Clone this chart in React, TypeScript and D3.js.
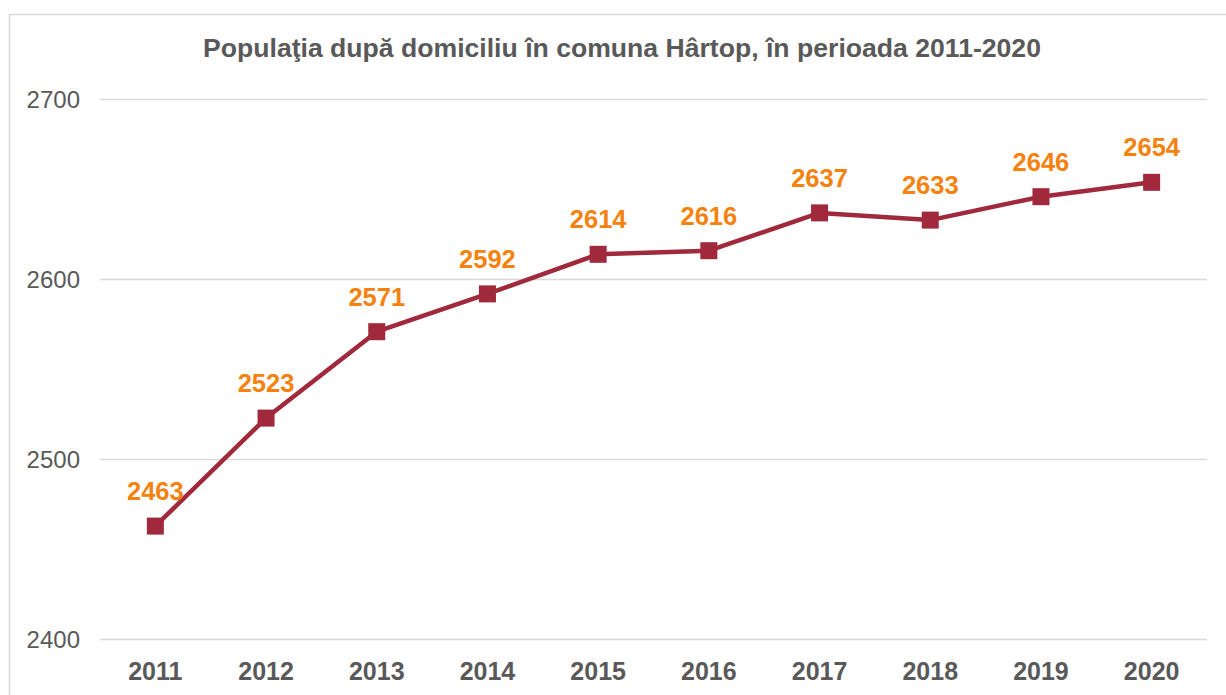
import { useRef, useEffect } from "react"
import * as d3 from "d3"

const years = ["2011", "2012", "2013", "2014", "2015", "2016", "2017", "2018", "2019", "2020"]
const population = [2463, 2523, 2571, 2592, 2614, 2616, 2637, 2633, 2646, 2654]
const yTicks = [2400, 2500, 2600, 2700]

export default function App() {
  const svgRef = useRef<SVGSVGElement>(null)

  useEffect(() => {
    if (!svgRef.current) return
    const svg = d3.select(svgRef.current)
    svg.selectAll("*").remove()

    const W = 1226
    const H = 695
    const font = "'Liberation Sans', Arial, sans-serif"

    // Chart frame
    svg
      .append("rect")
      .attr("x", 9.5)
      .attr("y", 14.5)
      .attr("width", W + 20)
      .attr("height", H + 20)
      .attr("fill", "white")
      .attr("stroke", "#d9d9d9")
      .attr("stroke-width", 1.5)

    // Title
    svg
      .append("text")
      .attr("x", 622)
      .attr("y", 57)
      .attr("text-anchor", "middle")
      .style("font-family", font)
      .style("font-size", "26.6px")
      .style("font-weight", "bold")
      .attr("fill", "#595959")
      .text("Populaţia după domiciliu în comuna Hârtop, în perioada 2011-2020")

    // Scales
    const x = d3.scaleBand().domain(years).range([100, 1207])
    const y = d3.scaleLinear().domain([2400, 2700]).range([639.5, 99.5])
    const cx = (d: string) => (x(d) || 0) + x.bandwidth() / 2

    // Gridlines
    svg
      .append("g")
      .selectAll("line")
      .data(yTicks)
      .enter()
      .append("line")
      .attr("x1", 100)
      .attr("x2", 1207)
      .attr("y1", (d) => y(d))
      .attr("y2", (d) => y(d))
      .attr("stroke", "#d9d9d9")
      .attr("stroke-width", 1.5)

    // Y labels
    svg
      .append("g")
      .selectAll("text")
      .data(yTicks)
      .enter()
      .append("text")
      .attr("x", 80)
      .attr("y", (d) => y(d) + 8)
      .attr("text-anchor", "end")
      .style("font-family", font)
      .style("font-size", "24px")
      .attr("fill", "#595959")
      .text((d) => d)

    // X labels
    svg
      .append("g")
      .selectAll("text")
      .data(years)
      .enter()
      .append("text")
      .attr("x", (d) => cx(d))
      .attr("y", 680)
      .attr("text-anchor", "middle")
      .style("font-family", font)
      .style("font-size", "25px")
      .style("font-weight", "bold")
      .attr("fill", "#595959")
      .text((d) => d)

    const points = years.map((d, i) => ({ year: d, value: population[i] }))

    // Line
    const line = d3
      .line<{ year: string; value: number }>()
      .x((d) => cx(d.year))
      .y((d) => y(d.value))
    svg
      .append("path")
      .datum(points)
      .attr("d", line)
      .attr("fill", "none")
      .attr("stroke", "#a0293b")
      .attr("stroke-width", 4.5)
      .attr("stroke-linejoin", "round")

    // Markers
    svg
      .append("g")
      .selectAll("rect")
      .data(points)
      .enter()
      .append("rect")
      .attr("x", (d) => cx(d.year) - 8.5)
      .attr("y", (d) => y(d.value) - 8.5)
      .attr("width", 17)
      .attr("height", 17)
      .attr("fill", "#a0293b")

    // Data labels
    svg
      .append("g")
      .selectAll("text")
      .data(points)
      .enter()
      .append("text")
      .attr("x", (d) => cx(d.year))
      .attr("y", (d) => y(d.value) - 26)
      .attr("text-anchor", "middle")
      .style("font-family", font)
      .style("font-size", "25.5px")
      .style("font-weight", "bold")
      .attr("fill", "#f5820e")
      .text((d) => d.value)
  }, [])

  return (
    <svg
      ref={svgRef}
      width={1226}
      height={695}
      style={{ position: "absolute", left: 0, top: 0, display: "block" }}
    />
  )
}
